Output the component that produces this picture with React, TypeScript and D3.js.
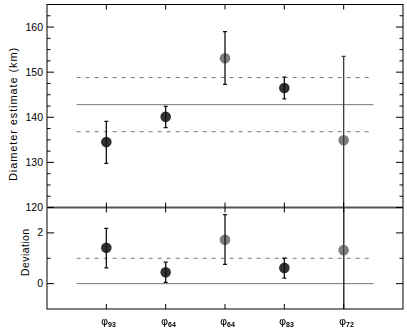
import * as d3 from 'd3';

// categories (phi labels) and values
const labels = ['93', '64', '64', '83', '72'];
const diameter = [134.5, 140.1, 153.1, 146.5, 134.9];
const diamLow = [129.8, 137.7, 147.3, 144.1, 80];
const diamHigh = [139.1, 142.4, 159.0, 148.9, 153.5];
const deviation = [1.41, 0.45, 1.73, 0.62, 1.32];
const devLow = [0.62, 0.05, 0.76, 0.22, -5];
const devHigh = [2.18, 0.85, 2.72, 1.0, 10];
const isGray = [false, false, true, false, true];
const meanDiam = 142.8;
const sigmaDiam = 6;
const upperTicks = [120, 130, 140, 150, 160];
const lowerTicks = [0, 2];

const W = 407;
const H = 330;
const L = 47;
const R = 403;
const T = 4.5;
const MID = 207.5;
const B = 309;

const font = '"Liberation Sans", Arial, sans-serif';

const App = () => {
  const x = d3.scaleLinear().domain([0, 6]).range([L, R]);
  const yU = d3.scaleLinear().domain([120, 165]).range([MID, T]);
  const yL = d3.scaleLinear().domain([-1, 3]).range([B, MID]);

  const upperMinor = d3.range(120, 165.1, 2.5).filter((v) => !upperTicks.includes(v));
  const lowerMinor = [1];
  const idx = labels.map((_, i) => i + 1);

  const yTicks = (scale, majors, minors, key) => (
    <g key={key} stroke="#000" strokeWidth={1}>
      {majors.map((v) => (
        <g key={'M' + v}>
          <line x1={L} x2={L + 7} y1={scale(v)} y2={scale(v)} />
          <line x1={R} x2={R - 7} y1={scale(v)} y2={scale(v)} />
        </g>
      ))}
      {minors.map((v) => (
        <g key={'m' + v}>
          <line x1={L} x2={L + 3.5} y1={scale(v)} y2={scale(v)} />
          <line x1={R} x2={R - 3.5} y1={scale(v)} y2={scale(v)} />
        </g>
      ))}
    </g>
  );

  const points = (scale, vals, lo, hi, key) => (
    <g key={key} clipPath={key === 'u' ? 'url(#clipU)' : 'url(#clipL)'}>
      {vals.map((v, i) => (
        <circle
          key={'c' + i}
          cx={x(i + 1)}
          cy={scale(v)}
          r={5.3}
          fill={isGray[i] ? '#7f7f7f' : '#333333'}
        />
      ))}
      {vals.map((v, i) => (
        <g key={'e' + i} stroke={i === 4 ? '#3a3a3a' : '#111'} strokeWidth={1.3}>
          <line x1={x(i + 1)} x2={x(i + 1)} y1={scale(lo[i])} y2={scale(hi[i])} />
          <line x1={x(i + 1) - 2} x2={x(i + 1) + 2} y1={scale(lo[i])} y2={scale(lo[i])} />
          <line x1={x(i + 1) - 2} x2={x(i + 1) + 2} y1={scale(hi[i])} y2={scale(hi[i])} />
        </g>
      ))}
    </g>
  );

  return (
    <svg width={W} height={H} style={{ position: 'absolute', left: 0, top: 0, background: '#fff' }}>
      <defs>
        <clipPath id="clipU">
          <rect x={L} y={T} width={R - L} height={B - T} />
        </clipPath>
        <clipPath id="clipL">
          <rect x={L} y={MID} width={R - L} height={B - MID} />
        </clipPath>
        <filter id="gray" x="0" y="0" width="1" height="1">
          <feColorMatrix type="saturate" values="0" />
        </filter>
      </defs>

      {/* reference lines */}
      <g stroke="#777" strokeWidth={1}>
        <line x1={x(0.5)} x2={x(5.5)} y1={yU(meanDiam)} y2={yU(meanDiam)} />
        <line x1={x(0.5)} x2={x(5.5)} y1={yU(meanDiam + sigmaDiam)} y2={yU(meanDiam + sigmaDiam)} strokeDasharray="4,5" />
        <line x1={x(0.5)} x2={x(5.5)} y1={yU(meanDiam - sigmaDiam)} y2={yU(meanDiam - sigmaDiam)} strokeDasharray="4,5" />
        <line x1={x(0.5)} x2={x(5.5)} y1={yL(0)} y2={yL(0)} />
        <line x1={x(0.5)} x2={x(5.5)} y1={yL(1)} y2={yL(1)} strokeDasharray="4,5" />
      </g>

      {points(yU, diameter, diamLow, diamHigh, 'u')}
      {points(yL, deviation, devLow, devHigh, 'l')}

      {/* frame */}
      <rect x={L} y={T} width={R - L} height={B - T} fill="none" stroke="#000" strokeWidth={1} />
      <line x1={L} x2={R} y1={MID} y2={MID} stroke="#555" strokeWidth={1.8} />

      {/* category ticks */}
      <g stroke="#000" strokeWidth={1}>
        {idx.map((c) => (
          <g key={c}>
            <line x1={x(c)} x2={x(c)} y1={T} y2={T + 5} />
            <line x1={x(c)} x2={x(c)} y1={B} y2={B - 5} />
            <line x1={x(c)} x2={x(c)} y1={MID - 5} y2={MID + 5} />
          </g>
        ))}
      </g>

      {yTicks(yU, upperTicks, upperMinor, 'tu')}
      {yTicks(yL, lowerTicks, lowerMinor, 'tl')}

      {/* tick labels */}
      <g fontFamily={font} fontSize={10.5} textAnchor="end" fill="#000">
        {upperTicks.map((v) => (
          <text key={'u' + v} x={L - 4} y={yU(v) + 3.5}>{v}</text>
        ))}
        {lowerTicks.map((v) => (
          <text key={'l' + v} x={L - 4} y={yL(v) + 3.5}>{v}</text>
        ))}
      </g>

      {/* x labels */}
      <g filter="url(#gray)">
        <rect x={L} y={312} width={R - L} height={18} fill="#fff" />
        {labels.map((lab, i) => (
          <g key={i}>
            <text
              x={Math.round(x(i + 1)) - 5}
              y={325}
              fontSize={11}
              fill="#000"
              fontFamily='"DejaVu Sans", sans-serif'
            >
              {'\u03C6'}
            </text>
            <text
              x={Math.round(x(i + 1)) + 2}
              y={327}
              fontSize={7}
              fontWeight="bold"
              fill="#000"
              fontFamily={font}
            >
              {lab}
            </text>
          </g>
        ))}
      </g>

      {/* axis titles */}
      <text
        transform={`translate(17, ${(T + MID) / 2 + 8}) rotate(-90)`}
        textAnchor="middle"
        fontFamily={font}
        fontSize={11}
        letterSpacing={0.9}
      >
        Diameter estimate (km)
      </text>
      <text
        transform={`translate(29, ${(MID + B) / 2 - 6}) rotate(-90)`}
        textAnchor="middle"
        fontFamily={font}
        fontSize={10.5}
        letterSpacing={0.4}
      >
        Deviation
      </text>
    </svg>
  );
};

export default App;
